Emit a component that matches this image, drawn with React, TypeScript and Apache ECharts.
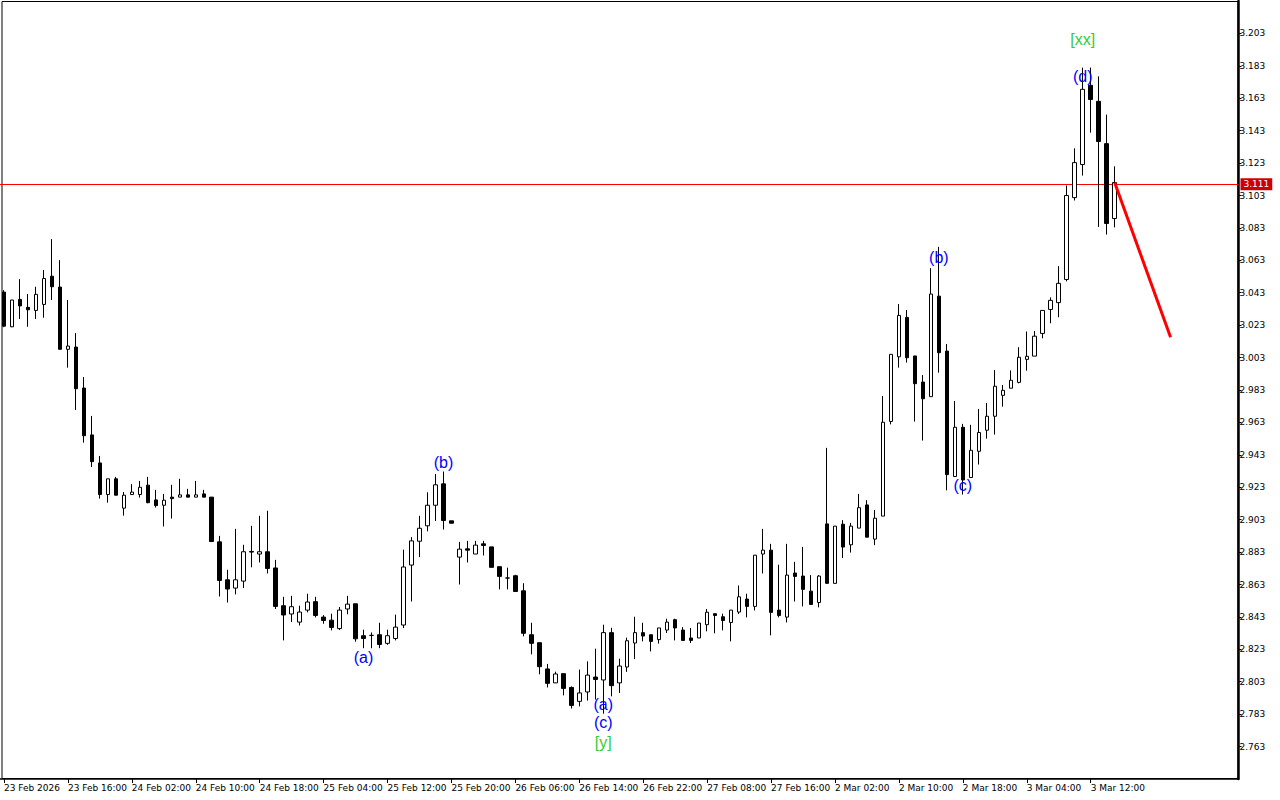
import React, { useEffect, useRef } from "react";
import * as echarts from "echarts";

// Hourly bars, 23 Feb 2026 – 3 Mar 2026
const openPrices = [
  3.0434, 3.022, 3.0389, 3.034, 3.0321, 3.0358, 3.0532, 3.0465, 3.0081, 3.0095,
  2.9842, 2.9553, 2.938, 2.9185, 2.9282, 2.9101, 2.9185, 2.9185, 2.9243, 2.9152,
  2.9119, 2.9169, 2.9169, 2.9183, 2.9169, 2.9189, 2.9169, 2.8893, 2.8659, 2.8608,
  2.8651, 2.8834, 2.8818, 2.8832, 2.8732, 2.8499, 2.8448, 2.8398, 2.8472, 2.8524,
  2.8429, 2.841, 2.8358, 2.8479, 2.8511, 2.8314, 2.8316, 2.832, 2.8267, 2.8297,
  2.838, 2.875, 2.8897, 2.8992, 2.9119, 2.9251, 2.9023, 2.8799, 2.885, 2.8818,
  2.8881, 2.8862, 2.874, 2.867, 2.8684, 2.8591, 2.832, 2.8271, 2.8109, 2.8023,
  2.808, 2.7995, 2.7909, 2.7967, 2.8059, 2.8041, 2.8333, 2.8023, 2.8121, 2.8269,
  2.8333, 2.832, 2.829, 2.8349, 2.8413, 2.8349, 2.83, 2.83, 2.8382, 2.845,
  2.8431, 2.8396, 2.846, 2.854, 2.8495, 2.8818, 2.8842, 2.8472, 2.8429, 2.8701,
  2.8682, 2.8589, 2.8519, 2.9004, 2.8637, 2.9002, 2.8875, 2.8978, 2.9121, 2.891,
  2.9052, 2.9636, 3.0035, 3.0278, 3.004, 2.9879, 2.9789, 3.0409, 3.007, 2.9296,
  2.96, 2.929, 2.9452, 2.9582, 2.9668, 2.9797, 2.9841, 2.9877, 3.0019, 3.0039,
  3.0179, 3.0327, 3.0369, 3.0512, 3.1017, 3.1221, 3.171, 3.1611, 3.135, 3.0888,
];
const closePrices = [
  3.0224, 3.0385, 3.0349, 3.0325, 3.042, 3.0518, 3.0467, 3.0081, 3.0101, 2.9838,
  2.9548, 2.9388, 2.9185, 2.9282, 2.9181, 2.9181, 2.92, 2.923, 2.9135, 2.9117,
  2.915, 2.916, 2.9183, 2.9169, 2.9183, 2.9169, 2.8895, 2.8655, 2.8602, 2.8659,
  2.8832, 2.883, 2.8832, 2.8729, 2.8495, 2.8442, 2.8493, 2.846, 2.8522, 2.8439,
  2.8408, 2.8365, 2.8472, 2.8509, 2.8295, 2.8297, 2.8316, 2.826, 2.8314, 2.8367,
  2.8738, 2.8899, 2.8977, 2.9119, 2.9245, 2.9025, 2.9008, 2.8848, 2.8842, 2.8873,
  2.8871, 2.8736, 2.868, 2.867, 2.8587, 2.8329, 2.8267, 2.8123, 2.802, 2.8078,
  2.7989, 2.7884, 2.7961, 2.8071, 2.8044, 2.8333, 2.8006, 2.8127, 2.8283, 2.8333,
  2.8312, 2.8279, 2.8362, 2.8398, 2.8362, 2.8285, 2.8285, 2.8392, 2.8459, 2.8439,
  2.8408, 2.8472, 2.8554, 2.8495, 2.8811, 2.8842, 2.8458, 2.8439, 2.8688, 2.868,
  2.86, 2.8507, 2.8682, 2.8637, 2.899, 2.8861, 2.899, 2.9104, 2.8922, 2.9039,
  2.9631, 3.005, 3.029, 3.0029, 2.9869, 2.9776, 3.0422, 3.006, 2.9308, 2.96,
  2.9275, 2.9458, 2.9568, 2.9668, 2.9853, 2.9828, 2.989, 3.0032, 3.0038, 3.0162,
  3.0321, 3.0383, 3.0488, 3.103, 3.1233, 3.1685, 3.1622, 3.1363, 3.0857, 3.111,
];
const lowPrices = [
  3.0218, 3.0218, 3.0268, 3.022, 3.0268, 3.0276, 3.0385, 3.0081, 2.9968, 2.9707,
  2.9505, 2.9355, 2.916, 2.9135, 2.9181, 2.9055, 2.9185, 2.9166, 2.9131, 2.9105,
  2.8988, 2.9037, 2.9169, 2.9169, 2.9169, 2.9169, 2.8895, 2.8556, 2.8519, 2.8569,
  2.8608, 2.8736, 2.8766, 2.8698, 2.8479, 2.8285, 2.8398, 2.8377, 2.8458, 2.8427,
  2.8388, 2.8347, 2.8349, 2.8446, 2.8277, 2.8237, 2.8237, 2.8237, 2.8258, 2.8285,
  2.8361, 2.8525, 2.8799, 2.8958, 2.9022, 2.8969, 2.9008, 2.863, 2.8766, 2.8818,
  2.8809, 2.8736, 2.86, 2.86, 2.8587, 2.831, 2.8199, 2.8076, 2.7995, 2.8023,
  2.7946, 2.7865, 2.7878, 2.7914, 2.792, 2.7833, 2.794, 2.7961, 2.8091, 2.817,
  2.8279, 2.8217, 2.8265, 2.8331, 2.8285, 2.8285, 2.8269, 2.83, 2.8341, 2.8329,
  2.8347, 2.8279, 2.8448, 2.8427, 2.847, 2.8698, 2.8316, 2.8427, 2.8396, 2.8525,
  2.8495, 2.8507, 2.8489, 2.8637, 2.8637, 2.8793, 2.8827, 2.8978, 2.8922, 2.8873,
  2.9052, 2.9618, 2.9968, 2.9999, 2.9635, 2.9518, 2.9789, 2.9937, 2.9211, 2.9296,
  2.9185, 2.929, 2.937, 2.953, 2.9555, 2.9727, 2.9841, 2.9871, 2.9949, 3.0039,
  3.0149, 3.0242, 3.0279, 3.05, 3.0999, 3.1153, 3.1418, 3.0836, 3.0789, 3.0833,
];
const highPrices = [
  3.0446, 3.0386, 3.0514, 3.0422, 3.0467, 3.057, 3.0761, 3.0631, 3.0385, 3.0181,
  2.991, 2.967, 2.9423, 2.9282, 2.9294, 2.9201, 2.9249, 2.9269, 2.9294, 2.9214,
  2.9189, 2.9245, 2.9282, 2.922, 2.9269, 2.9214, 2.9169, 2.893, 2.8721, 2.8973,
  2.8875, 2.8992, 2.9054, 2.9085, 2.8782, 2.8554, 2.856, 2.8499, 2.8573, 2.8554,
  2.8441, 2.845, 2.8491, 2.856, 2.8511, 2.8351, 2.8334, 2.8394, 2.8351, 2.8444,
  2.8845, 2.8922, 2.9054, 2.9199, 2.9312, 2.9327, 2.9023, 2.8893, 2.8899, 2.8899,
  2.8899, 2.8862, 2.874, 2.8734, 2.869, 2.8638, 2.8394, 2.8271, 2.814, 2.8092,
  2.808, 2.8001, 2.8105, 2.8156, 2.8234, 2.8382, 2.8363, 2.8172, 2.8302, 2.8431,
  2.8394, 2.832, 2.8362, 2.8419, 2.8419, 2.8367, 2.8362, 2.8392, 2.8479, 2.845,
  2.845, 2.8472, 2.8624, 2.8573, 2.8811, 2.8973, 2.8881, 2.8752, 2.8881, 2.877,
  2.8862, 2.8688, 2.8688, 2.9473, 2.899, 2.9027, 2.901, 2.9189, 2.915, 2.9089,
  2.9793, 3.005, 3.036, 3.0323, 3.004, 2.9922, 3.0582, 3.0713, 3.0114, 2.9762,
  2.9621, 2.9615, 2.9713, 2.975, 2.9953, 2.9861, 2.9951, 3.0094, 3.0191, 3.0194,
  3.0321, 3.0401, 3.0594, 3.1092, 3.1321, 3.1819, 3.1819, 3.1765, 3.1529, 3.121,
];

// Time-axis tick labels, one every 8 bars starting at bar 0
const timeTickLabels = [
  "23 Feb 2026", "23 Feb 16:00", "24 Feb 02:00", "24 Feb 10:00", "24 Feb 18:00",
  "25 Feb 04:00", "25 Feb 12:00", "25 Feb 20:00", "26 Feb 06:00", "26 Feb 14:00",
  "26 Feb 22:00", "27 Feb 08:00", "27 Feb 16:00", "2 Mar 02:00", "2 Mar 10:00",
  "2 Mar 18:00", "3 Mar 04:00", "3 Mar 12:00",
];
const TICK_STEP = 8;
const SLOT_COUNT = 155; // bars + empty space on the right
const categories = Array.from({ length: SLOT_COUNT }, (_, i) => String(i));

// Current price line
const currentPrice = 3.111;
// Forecast arrow: [bar index, price]
const forecastPoints: [number, number][] = [
  [139, 3.111],
  [146, 3.0155],
];

// Elliott wave labels: [bar index, price, text, colour]
const waveLabels: [number, number, string, string][] = [
  [45, 2.8178, "(a)", "#0000ff"],
  [55, 2.938, "(b)", "#0000ff"],
  [75, 2.7889, "(a)", "#0000ff"],
  [75, 2.7778, "(c)", "#0000ff"],
  [75, 2.7655, "[y]", "#32cd32"],
  [117, 3.065, "(b)", "#0000ff"],
  [120, 2.9239, "(c)", "#0000ff"],
  [135, 3.1765, "(d)", "#0000ff"],
  [135, 3.1993, "[xx]", "#32cd32"],
];

const yTicks = { min: 2.743, max: 3.223, interval: 0.02 };

export default function App() {
  const ref = useRef<HTMLDivElement>(null);
  useEffect(() => {
    if (!ref.current) return;
    const chart = echarts.init(ref.current, undefined, { renderer: "svg" });
    const candleData = openPrices.map((o, i) => [o, closePrices[i], lowPrices[i], highPrices[i]]);
    const option: any = {
      animation: false,
      backgroundColor: "#ffffff",
      grid: { left: -1.5, right: 41.5, top: 1, bottom: 21, containLabel: false },
      graphic: [
        {
          type: "rect",
          silent: true,
          z: 0,
          shape: { x: 2, y: 1.5, width: 1236, height: 777 },
          style: { fill: "none", stroke: "#000", lineWidth: 1 },
        },
      ],
      xAxis: {
        type: "category",
        data: categories,
        boundaryGap: true,
        axisLine: { show: true, lineStyle: { color: "#000", width: 1.5 } },
        axisTick: {
          show: true,
          alignWithLabel: true,
          length: 4,
          interval: (idx: number) => idx % TICK_STEP === 0 && idx / TICK_STEP < timeTickLabels.length,
          lineStyle: { color: "#000" },
        },
        axisLabel: {
          show: true,
          interval: (idx: number) => idx % TICK_STEP === 0 && idx / TICK_STEP < timeTickLabels.length,
          formatter: (_v: string, idx: number) => timeTickLabels[idx / TICK_STEP] ?? "",
          align: "left",
          margin: 4,
          color: "#000",
          fontSize: 9,
          fontFamily: "DejaVu Sans",
        },
        splitLine: { show: false },
      },
      yAxis: {
        type: "value",
        position: "right",
        min: yTicks.min,
        max: yTicks.max,
        interval: yTicks.interval,
        axisLine: { show: true, lineStyle: { color: "#000", width: 2.5 } },
        axisTick: { show: true, length: 3, lineStyle: { color: "#000" } },
        axisLabel: {
          color: "#000",
          fontSize: 9,
          fontFamily: "DejaVu Sans",
          margin: 1,
          showMinLabel: false,
          showMaxLabel: false,
          formatter: (v: number) => v.toFixed(3),
        },
        splitLine: { show: false },
      },
      series: [
        {
          type: "candlestick",
          data: candleData,
          barWidth: 4,
          itemStyle: {
            color: "#ffffff",
            color0: "#000000",
            borderColor: "#000000",
            borderColor0: "#000000",
            borderColorDoji: "#000000",
            borderWidth: 1,
          },
          markLine: {
            silent: true,
            symbol: ["none", "none"],
            data: [{ yAxis: currentPrice }],
            lineStyle: { color: "#ff0000", width: 1, type: "solid" },
            label: {
              show: true,
              position: "end",
              distance: 2,
              formatter: currentPrice.toFixed(3),
              color: "#ffffff",
              backgroundColor: "#cc0000",
              fontSize: 9,
              fontFamily: "DejaVu Sans",
              padding: [2, 3, 1, 3],
            },
            z: 1,
          },
          z: 2,
        },
        {
          type: "line",
          data: forecastPoints,
          symbol: "none",
          lineStyle: { color: "#ff0000", width: 3 },
          z: 3,
        },
        {
          type: "scatter",
          symbol: "circle",
          symbolSize: 1,
          itemStyle: { color: "rgba(0,0,0,0)", opacity: 1 },
          labelLayout: { hideOverlap: false },
          data: waveLabels.map(([x, y, text, color]) => ({
            value: [x, y],
            label: { show: true, formatter: text, color },
          })),
          label: {
            show: true,
            position: "inside",
            offset: [-1.5, 0],
            opacity: 1,
            fontSize: 16,
            fontFamily: "Liberation Sans",
          },
          z: 4,
        },
      ],
    };
    chart.setOption(option);
    return () => chart.dispose();
  }, []);
  return (
    <div
      ref={ref}
      style={{ position: "fixed", left: 0, top: 0, width: 1280, height: 800, background: "#fff" }}
    />
  );
}
